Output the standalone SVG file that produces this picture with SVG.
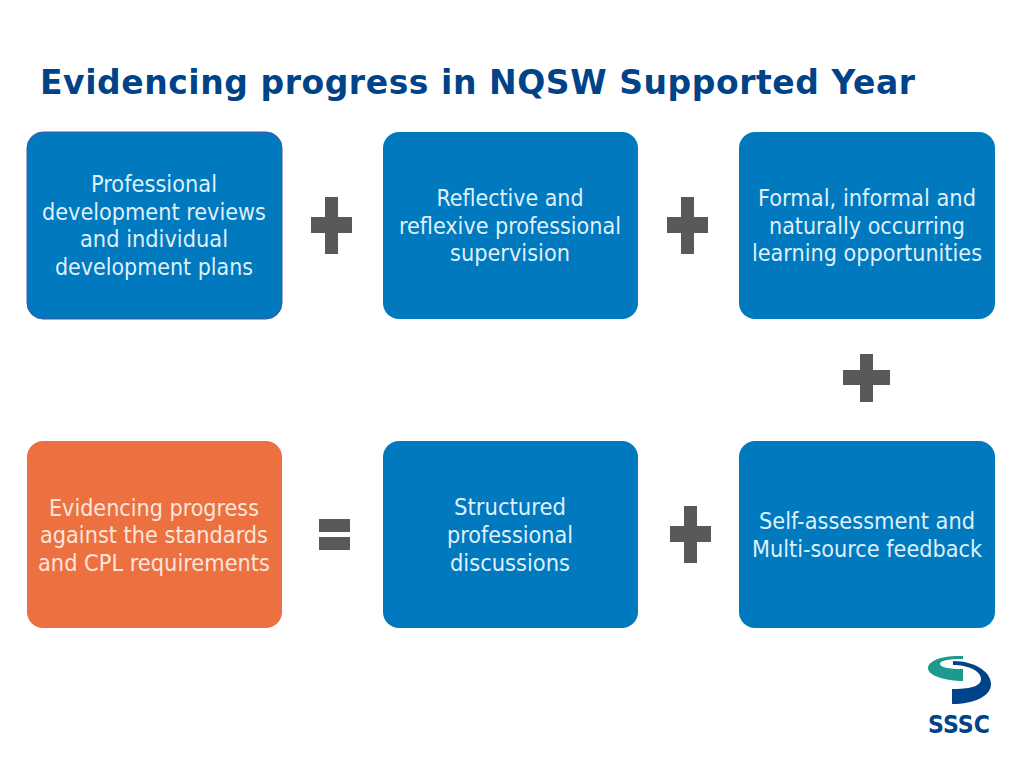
<svg xmlns="http://www.w3.org/2000/svg" width="1024" height="768" viewBox="0 0 1024 768">
<style>
.box{fill:#0079bf}
.t{font-family:"DejaVu Sans Condensed","DejaVu Sans",sans-serif;font-size:23px;fill:#dff0fa;text-anchor:middle}
.w{fill:#fbe6dc}
.op{fill:#595959}
.title{font-family:"DejaVu Sans",Verdana,sans-serif;font-weight:bold;font-size:33px;fill:#004388}
</style>
<rect width="1024" height="768" fill="#fff"/>
<text class="title" x="40" y="94" textLength="875" lengthAdjust="spacing">Evidencing progress in NQSW Supported Year</text>
<g id="n1"><rect class="box" x="27" y="132" width="255" height="187" rx="16" stroke="#44589f"/><text class="t" x="154" y="192" textLength="126" lengthAdjust="spacingAndGlyphs">Professional</text><text class="t" x="154" y="220" textLength="224" lengthAdjust="spacingAndGlyphs">development reviews</text><text class="t" x="154" y="247" textLength="148" lengthAdjust="spacingAndGlyphs">and individual</text><text class="t" x="154" y="275" textLength="198" lengthAdjust="spacingAndGlyphs">development plans</text></g>
<g id="n2"><rect class="box" x="383" y="132" width="255" height="187" rx="16"/><text class="t" x="510" y="206" textLength="147" lengthAdjust="spacingAndGlyphs">Reflective and</text><text class="t" x="510" y="234" textLength="222" lengthAdjust="spacingAndGlyphs">reflexive professional</text><text class="t" x="510" y="261" textLength="120" lengthAdjust="spacingAndGlyphs">supervision</text></g>
<g id="n3"><rect class="box" x="739" y="132" width="256" height="187" rx="16"/><text class="t" x="867" y="206" textLength="218" lengthAdjust="spacingAndGlyphs">Formal, informal and</text><text class="t" x="867" y="234" textLength="196" lengthAdjust="spacingAndGlyphs">naturally occurring</text><text class="t" x="867" y="261" textLength="230" lengthAdjust="spacingAndGlyphs">learning opportunities</text></g>
<g id="n4"><rect x="27" y="441" width="255" height="187" rx="16" fill="#ed7041"/><text class="t w" x="154" y="516" textLength="210" lengthAdjust="spacingAndGlyphs">Evidencing progress</text><text class="t w" x="154" y="543" textLength="228" lengthAdjust="spacingAndGlyphs">against the standards</text><text class="t w" x="154" y="571" textLength="232" lengthAdjust="spacingAndGlyphs">and CPL requirements</text></g>
<g id="n5"><rect class="box" x="383" y="441" width="255" height="187" rx="16"/><text class="t" x="510" y="515" textLength="112" lengthAdjust="spacingAndGlyphs">Structured</text><text class="t" x="510" y="543" textLength="126" lengthAdjust="spacingAndGlyphs">professional</text><text class="t" x="510" y="571" textLength="120" lengthAdjust="spacingAndGlyphs">discussions</text></g>
<g id="n6"><rect class="box" x="739" y="441" width="256" height="187" rx="16"/><text class="t" x="867" y="529" textLength="216" lengthAdjust="spacingAndGlyphs">Self-assessment and</text><text class="t" x="867" y="557" textLength="230" lengthAdjust="spacingAndGlyphs">Multi-source feedback</text></g>
<g id="connectors">
<path class="op" d="M325 197h13v20h14v16h-14v21h-13v-21h-14v-16h14z"/>
<path class="op" d="M681 197h13v20h14v16h-14v21h-13v-21h-14v-16h14z"/>
<path class="op" d="M860 354h13v16h17v15h-17v17h-13v-17h-17v-15h17z"/>
<path class="op" d="M684 506h13v20h14v16h-14v21h-13v-21h-14v-16h14z"/>
<path class="op" d="M319 519h31v13h-31zM319 537h31v13h-31z"/>
</g>
<g id="logo">
<path fill="#1c9a8c" d="M963 656C942 655 928 661 928 668C928 676 946 681 963 681V669C948 669 940 667 940 664C940 660 952 659 963 659Z"/>
<path fill="#004388" d="M953 661C975 661 991 672 991 684C991 696 975 704 952 704V689C968 689 981 687 981 679C981 671 968 665 953 665Z"/>
<text x="959" y="733" font-family="'DejaVu Sans',sans-serif" font-weight="bold" font-size="24" fill="#004388" text-anchor="middle" textLength="62" lengthAdjust="spacingAndGlyphs">SSSC</text>
</g>
</svg>
